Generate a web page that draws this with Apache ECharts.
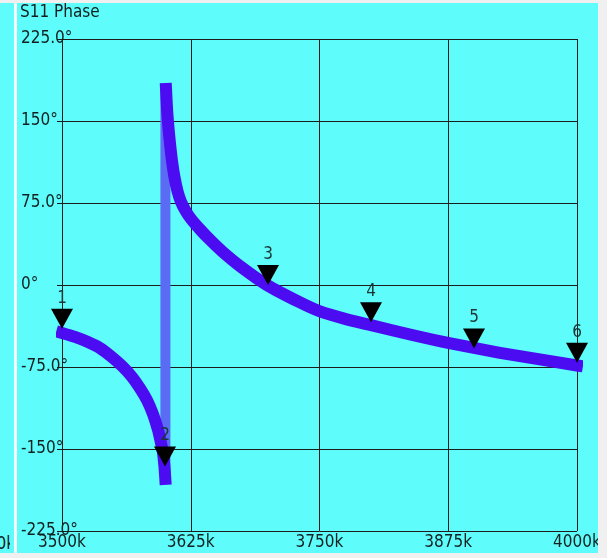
<!DOCTYPE html>
<html>
<head>
<meta charset="utf-8">
<script src="https://cdn.jsdelivr.net/npm/echarts@6/dist/echarts.min.js"></script>
<style>
  html, body { margin: 0; padding: 0; background: #f0f0f0; width: 607px; height: 558px; overflow: hidden; }
  #left { position: absolute; left: 0; top: 3px; width: 14px; height: 550px; background: #5ffcfc; overflow: hidden; }
  #leftclip { position: absolute; left: 0; top: 0; width: 10px; height: 550px; overflow: hidden; }
  #leftclip span { position: absolute; right: -5px; top: 530px; font-family: "DejaVu Sans Condensed", "DejaVu Sans", sans-serif; font-size: 17px; color: #122020; white-space: nowrap; }
  #strip { position: absolute; left: 14px; top: 3px; width: 3px; height: 550px; background: #f6fafa; }
  #chart { position: absolute; left: 17px; top: 3px; width: 581px; height: 550px; background: #5ffcfc; }
</style>
</head>
<body>
<div id="left"><div id="leftclip"><span>4000k</span></div></div>
<div id="strip"></div>
<div id="chart"></div>
<script>
// ---- data ----
const chartTitle = 'S11 Phase';
const xTickLabels = ['3500k', '3625k', '3750k', '3875k', '4000k'];
const yTickLabels = ['-225.0°', '-150°', '-75.0°', '0°', '75.0°', '150°', '225.0°'];

// branch below resonance (frequency kHz, phase deg)
const leftFreq  = [3500, 3512.6, 3525.2, 3536.9, 3548.5, 3558.3, 3568.0, 3575.7, 3582.5, 3588.3, 3593.2, 3596.1, 3598.1, 3599.5, 3600.3];
const leftPhase = [-43.9, -47.5, -52.2, -57.7, -65.9, -74.1, -84.1, -94.4, -105.3, -118.0, -132.6, -144.5, -153.7, -166.5, -177.4];

// branch above resonance
const rightFreq  = [3601.0, 3602.1, 3603.4, 3604.9, 3606.8, 3609.2, 3612.1, 3615.5, 3619.9, 3625.2, 3634.0, 3643.7, 3655.3, 3672.8, 3699.0, 3731.1, 3750.5, 3774.8, 3799.0, 3837.9, 3874.8, 3925.2, 4000.0];
const rightPhase = [179.3, 159.1, 143.6, 129.0, 113.4, 98.6, 86.0, 76.1, 67.9, 60.5, 50.9, 41.3, 30.9, 17.3, 0.0, -16.0, -24.2, -31.0, -36.5, -45.3, -53.0, -62.0, -73.6];

// wrap-around jump at resonance
const jumpFreq  = [3600.4, 3600.4];
const jumpPhase = [-177, 179];

// markers
const markerNames = ['1', '2', '3', '4', '5', '6'];
const markerFreq  = [3500, 3600, 3700, 3800, 3900, 4000];
const markerPhase = [-40, -166, 0, -34, -58, -71];

const FONT = '"DejaVu Sans Condensed", "DejaVu Sans", sans-serif';
const TXT = '#122020';
const GRID = '#1c1c1c';
const xMin = 3500, xMax = 4000, xInt = 125;
const yMin = -225, yMax = 225, yInt = 75;

const zip = (a, b) => a.map((v, i) => [v, b[i]]);

const chart = echarts.init(document.getElementById('chart'), null, { renderer: 'canvas' });
chart.setOption({
  animation: false,
  backgroundColor: '#5ffcfc',
  title: {
    text: chartTitle, left: 3, top: 1, padding: 0,
    textStyle: { fontFamily: FONT, fontSize: 17, fontWeight: 'normal', color: TXT }
  },
  grid: { left: 45, right: 21, top: 36, bottom: 22, containLabel: false, outerBoundsMode: 'none' },
  xAxis: {
    type: 'value', min: xMin, max: xMax, interval: xInt,
    axisLine: { show: true, lineStyle: { color: GRID, width: 1 } },
    axisTick: { show: false },
    splitLine: { show: true, lineStyle: { color: GRID, width: 1 } },
    axisLabel: {
      show: true, margin: 3, fontFamily: FONT, fontSize: 17, color: TXT,
      showMinLabel: true, showMaxLabel: true, hideOverlap: false,
      formatter: v => xTickLabels[Math.round((v - xMin) / xInt)]
    }
  },
  yAxis: {
    type: 'value', min: yMin, max: yMax, interval: yInt,
    axisLine: { show: true, lineStyle: { color: GRID, width: 1 } },
    axisTick: { show: true, length: 5, lineStyle: { color: GRID } },
    splitLine: { show: true, lineStyle: { color: GRID, width: 1 } },
    axisLabel: {
      show: true, margin: 41, align: 'left', verticalAlign: 'middle',
      padding: [0, 0, 8, 0],
      fontFamily: FONT, fontSize: 17, color: TXT,
      showMinLabel: true, showMaxLabel: true,
      formatter: v => yTickLabels[Math.round((v - yMin) / yInt)]
    }
  },
  series: [
    {
      type: 'line', data: zip(jumpFreq, jumpPhase), showSymbol: false, symbol: 'none',
      lineStyle: { color: '#5a6cf4', width: 10, cap: 'butt' }, z: 1, clip: false
    },
    {
      type: 'line', data: zip(leftFreq, leftPhase), showSymbol: false, symbol: 'none', smooth: 0.2,
      lineStyle: { color: '#4b0cf2', width: 12, cap: 'square', join: 'round' }, z: 2, clip: false
    },
    {
      type: 'line', data: zip(rightFreq, rightPhase), showSymbol: false, symbol: 'none', smooth: 0.2,
      lineStyle: { color: '#4b0cf2', width: 12, cap: 'square', join: 'round' }, z: 2, clip: false
    },
    {
      type: 'scatter', clip: false, z: 5,
      data: markerFreq.map((f, i) => ({ value: [f, markerPhase[i]], name: markerNames[i] })),
      symbol: 'path://M0,0 L22,0 L11,20 Z',
      symbolSize: [22, 20],
      symbolOffset: [0, -10],
      itemStyle: { color: '#000000', opacity: 1 },
      label: {
        show: true, position: 'top', distance: 2,
        formatter: p => p.name,
        fontFamily: FONT, fontSize: 17, color: '#1c3434'
      }
    }
  ]
});
</script>
</body>
</html>
